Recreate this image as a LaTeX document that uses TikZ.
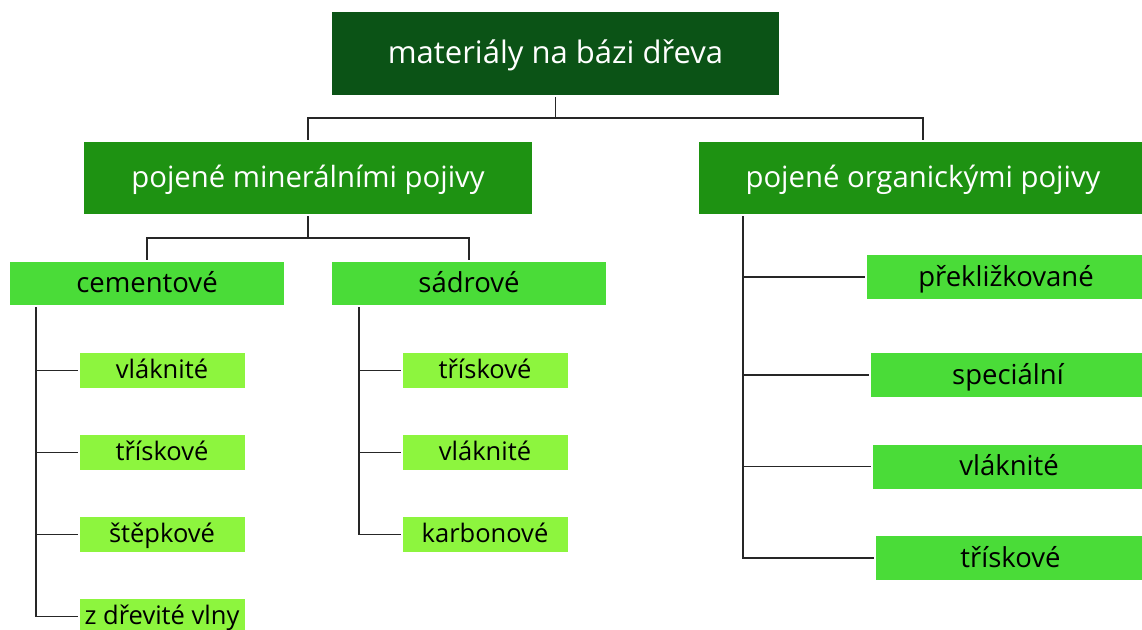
\documentclass[tikz,border=0pt]{standalone}
\usepackage{fontspec}
\setmainfont{Open Sans}
\usepackage{xcolor}
\usepackage{tikz}
\usetikzlibrary{positioning,calc}
\definecolor{WoodDark}{RGB}{11,83,22}
\definecolor{WoodMid}{RGB}{30,146,18}
\definecolor{WoodLight}{RGB}{74,220,56}
\definecolor{WoodLime}{RGB}{141,245,62}

\begin{document}
\begin{tikzpicture}[x=1pt, y=-1pt,
    % Style cho các hộp
    rootbox/.style={rectangle, fill=WoodDark, text=white, font=\fontsize{31}{36}\selectfont, minimum width=447pt, minimum height=83pt, inner sep=0pt, outer sep=2pt, text height=25.3pt, text depth=4.7pt},
    groupbox/.style={rectangle, fill=WoodMid, text=white, font=\fontsize{29.3}{34}\selectfont, minimum width=448pt, minimum height=72pt, inner sep=0pt, outer sep=2pt, text height=24pt, text depth=4.3pt},
    subbox/.style={rectangle, fill=WoodLight, text=black, font=\fontsize{27.5}{32}\selectfont, minimum width=274pt, minimum height=43pt, inner sep=0pt, outer sep=2pt, text height=22.6pt, text depth=3.9pt},
    leafbox/.style={rectangle, fill=WoodLime, text=black, font=\fontsize{25.5}{30}\selectfont, minimum width=165pt, minimum height=35pt, inner sep=0pt, outer sep=2pt, text height=20.6pt, text depth=4pt},
    orgbox/.style={rectangle, fill=WoodLight, text=black, font=\fontsize{27.5}{32}\selectfont, minimum height=44pt, inner sep=0pt, outer sep=2pt, text height=22.6pt, text depth=3.9pt},
    % Style cạnh
    link/.style={draw=black!85, line width=1.3pt}
  ]
  \useasboundingbox (0,0) rectangle (1142,629);

  % --- Gốc ---
  \node[rootbox] (root) at (555.5, 53.5) {materiály na bázi dřeva};

  % --- Nhóm ---
  \node[groupbox] (mineral) at (308, 178) {pojené minerálními pojivy};
  \node[groupbox] (organic) at (923, 178) {pojené organickými pojivy};

  % --- Minerální ---
  \node[subbox] (cement) at (147, 283.5) {cementové};
  \node[subbox] (gypsum) at (469, 283.5) {sádrové};

  \node[leafbox] (c1) at (162, 370.5) {vláknité};
  \node[leafbox] (c2) at (162, 452.5) {třískové};
  \node[leafbox] (c3) at (162, 534.5) {štěpkové};
  \node[leafbox] (c4) at (162, 616.5) {z dřevité vlny};

  \node[leafbox] (g1) at (485, 370.5) {třískové};
  \node[leafbox] (g2) at (485, 452.5) {vláknité};
  \node[leafbox] (g3) at (485, 534.5) {karbonové};

  % --- Organické ---
  \node[orgbox, minimum width=278pt] (o1) at (1006, 277) {překližkované};
  \node[orgbox, minimum width=274pt] (o2) at (1008, 375) {speciální};
  \node[orgbox, minimum width=272pt] (o3) at (1009, 466.5) {vláknité};
  \node[orgbox, minimum width=269pt] (o4) at (1010.5, 558) {třískové};

  % --- Cạnh ---
  \draw[link] (root.south) -- ++(0,21) -| (mineral.north);
  \draw[link] (root.south) -- ++(0,21) -| (organic.north);
  \draw[link] (mineral.south) -- ++(0,22) -| (cement.north);
  \draw[link] (mineral.south) -- ++(0,22) -| (gypsum.north);

  % Větve
  \draw[link] ([xshift=28pt]cement.south west) |- (c1.west); \draw[link] ([xshift=28pt]cement.south west) |- (c2.west);
  \draw[link] ([xshift=28pt]cement.south west) |- (c3.west); \draw[link] ([xshift=28pt]cement.south west) |- (c4.west);
  \draw[link] ([xshift=29pt]gypsum.south west) |- (g1.west); \draw[link] ([xshift=29pt]gypsum.south west) |- (g2.west);
  \draw[link] ([xshift=29pt]gypsum.south west) |- (g3.west);
  \draw[link] ([xshift=46pt]organic.south west) |- (o1.west); \draw[link] ([xshift=46pt]organic.south west) |- (o2.west);
  \draw[link] ([xshift=46pt]organic.south west) |- (o3.west); \draw[link] ([xshift=46pt]organic.south west) |- (o4.west);

\end{tikzpicture}
\end{document}
